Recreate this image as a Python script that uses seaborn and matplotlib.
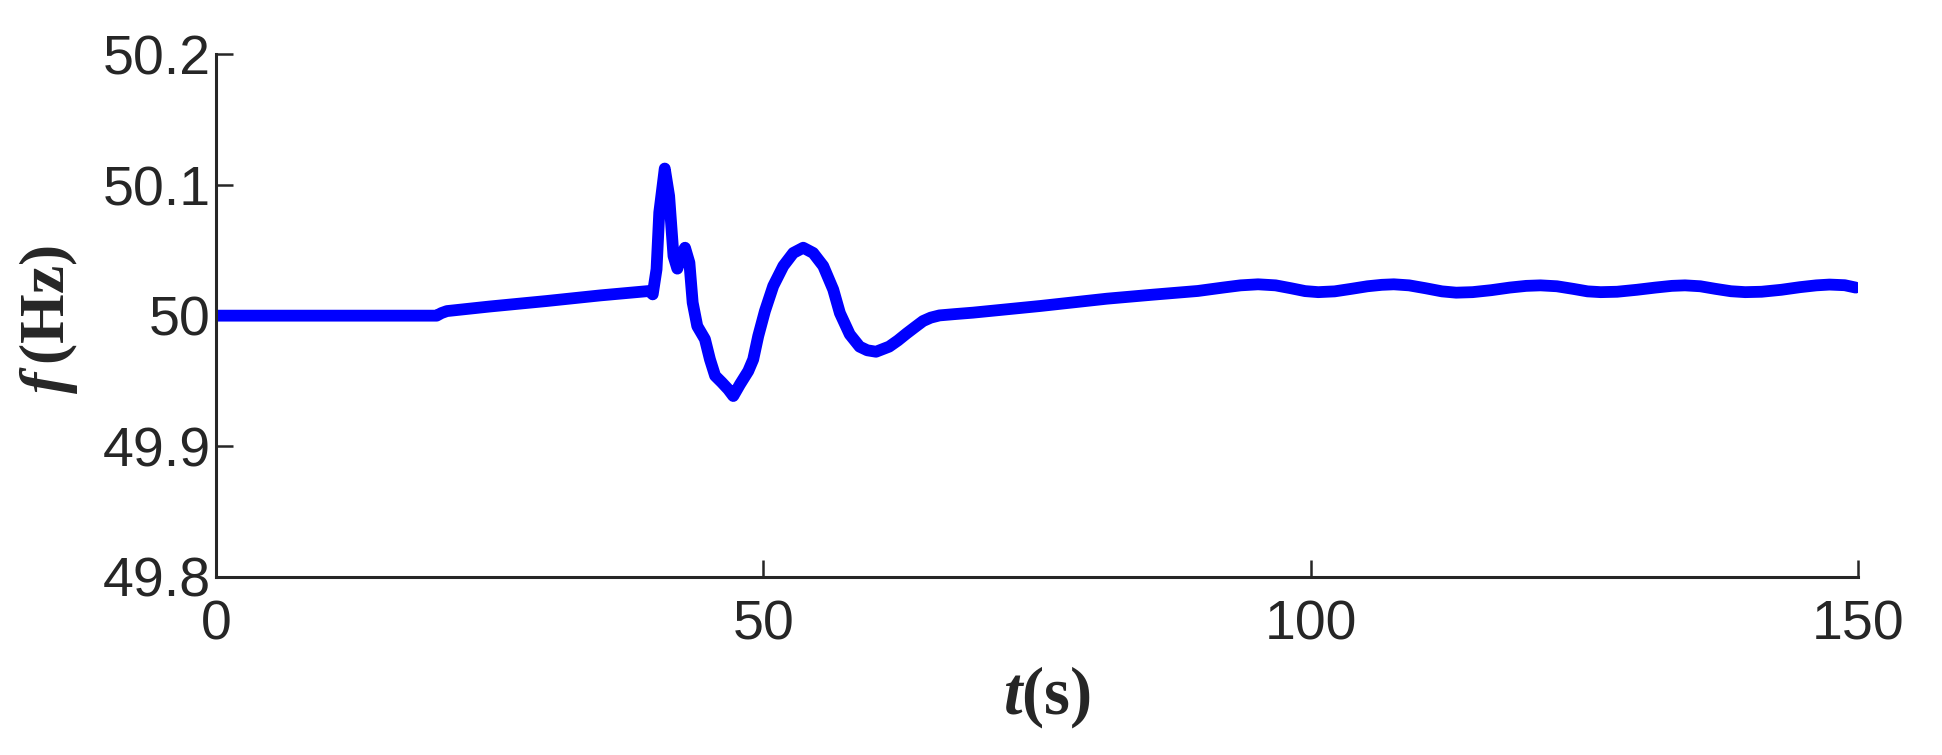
import numpy as np
import pandas as pd
import matplotlib
matplotlib.use('Agg')
import matplotlib.pyplot as plt
import seaborn as sns

# 시간 (s)
t = [0.0, 15.0, 20.16, 20.6, 21.1, 25.0, 30.2, 35.1, 39.6, 39.9, 40.25, 40.5,
     41.0, 41.4, 41.8, 42.15, 42.55, 42.85, 43.25, 43.55, 43.97, 44.67, 45.13,
     45.6, 46.2, 46.8, 47.26, 47.87, 48.63, 49.08, 49.54, 50.15, 50.91, 51.83,
     52.74, 53.65, 54.56, 55.48, 56.39, 57.0, 57.9, 58.8, 59.5, 60.3, 61.5,
     62.3, 63.1, 63.9, 64.6, 65.3, 66.1, 67.5, 69.15, 75.3, 81.4, 85.5, 89.7,
     92.0, 93.6, 95.2, 96.8, 98.2, 99.5, 100.7, 102.2, 103.7, 105.2, 106.5,
     107.6, 109.0, 110.5, 112.0, 113.3, 114.8, 116.5, 118.2, 119.7, 121.0,
     122.5, 124.0, 125.3, 126.5, 128.0, 129.8, 131.5, 133.0, 134.2, 135.6,
     137.0, 138.4, 139.7, 141.2, 143.0, 144.7, 146.2, 147.4, 148.8, 149.8]

# 주파수 (Hz)
freq = [50.0, 50.0, 50.0, 50.002, 50.0035, 50.007, 50.0112, 50.0155, 50.0189,
        50.0163, 50.0355, 50.079, 50.1126, 50.0916, 50.0456, 50.036, 50.047,
        50.052, 50.0406, 50.010, 49.992, 49.982, 49.9665, 49.954, 49.949,
        49.9436, 49.9385, 49.9474, 49.9576, 49.9665, 49.9844, 50.0035, 50.0227,
        50.038, 50.048, 50.052, 50.048, 50.038, 50.020, 50.002, 49.9857,
        49.9763, 49.9735, 49.9724, 49.9763, 49.981, 49.9864, 49.9915, 49.9959,
        49.9985, 50.0002, 50.0012, 50.0023, 50.0074, 50.013, 50.016, 50.0189,
        50.0215, 50.0232, 50.0240, 50.0232, 50.0210, 50.0188, 50.0180, 50.0186,
        50.0205, 50.0225, 50.0236, 50.0240, 50.0232, 50.0210, 50.0186, 50.0176,
        50.0180, 50.0195, 50.0215, 50.0228, 50.0232, 50.0225, 50.0205, 50.0186,
        50.0180, 50.0183, 50.0198, 50.0215, 50.0228, 50.0232, 50.0225, 50.0205,
        50.0187, 50.0180, 50.0183, 50.0198, 50.0218, 50.0232, 50.0238, 50.0233,
        50.0215]

xticks = [0, 50, 100, 150]
yticks = [49.8, 49.9, 50.0, 50.1, 50.2]
ytick_labels = ['49.8', '49.9', '50', '50.1', '50.2']

sns.set_theme(style='ticks')
plt.rcParams['font.family'] = ['Liberation Sans', 'DejaVu Sans']
plt.rcParams['mathtext.fontset'] = 'custom'
plt.rcParams['mathtext.rm'] = 'Liberation Serif:bold'
plt.rcParams['mathtext.bf'] = 'Liberation Serif:bold'
plt.rcParams['mathtext.it'] = 'Liberation Serif:italic:bold'

df = pd.DataFrame({'t': t, 'f': freq})

fig = plt.figure(figsize=(19.42, 7.55), dpi=100)
ax = fig.add_axes([0.1112, 0.2358, 0.9567 - 0.1112, 0.928 - 0.2358])

sns.lineplot(data=df, x='t', y='f', ax=ax, color='#0000ff', linewidth=8.5,
             solid_capstyle='round', solid_joinstyle='round')

ax.set_xlim(0, 150)
ax.set_ylim(49.8, 50.2)
ax.set_xticks(xticks)
ax.set_yticks(yticks)
ax.set_yticklabels(ytick_labels)

for s in ['top', 'right']:
    ax.spines[s].set_visible(False)
for s in ['left', 'bottom']:
    ax.spines[s].set_linewidth(2.2)
    ax.spines[s].set_color('#262626')

ax.tick_params(axis='both', direction='in', length=12.5, width=1.8,
               color='#262626', labelsize=40, labelcolor='#262626')
ax.tick_params(axis='x', pad=16)
ax.tick_params(axis='y', pad=4)

ax.set_xlabel(r'$\mathit{t}\mathbf{(s)}$', fontsize=48)
ax.set_ylabel(r'$\mathit{f}\,\mathbf{(Hz)}$', fontsize=46)
ax.xaxis.label.set_va('center')
ax.yaxis.label.set_va('center')
ax.xaxis.set_label_coords(0.506, -0.229)
ax.yaxis.set_label_coords(-0.1017, 0.493)

fig.savefig('out.png', dpi=100)
